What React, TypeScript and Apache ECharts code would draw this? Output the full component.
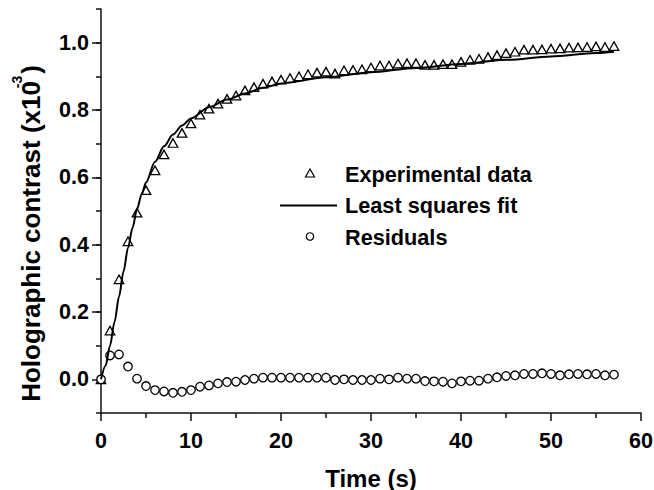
import React, { useEffect, useRef } from "react";
import * as echarts from "echarts";

const timeS = [
  0, 1, 2, 3, 4, 5, 6, 7, 8, 9, 10, 11, 12, 13, 14, 15, 16, 17, 18, 19, 20, 21, 22, 23, 24, 25, 26, 27, 28,
  29, 30, 31, 32, 33, 34, 35, 36, 37, 38, 39, 40, 41, 42, 43, 44, 45, 46, 47, 48, 49, 50, 51, 52, 53, 54, 55,
  56, 57,
];

const experimental = [
  0.0, 0.145, 0.297, 0.41, 0.495, 0.562, 0.621, 0.668, 0.702, 0.732, 0.76, 0.786, 0.804, 0.819, 0.833, 0.843,
  0.858, 0.868, 0.878, 0.885, 0.89, 0.895, 0.9, 0.906, 0.911, 0.914, 0.908, 0.918, 0.919, 0.921, 0.926, 0.932,
  0.932, 0.938, 0.939, 0.939, 0.934, 0.934, 0.936, 0.936, 0.943, 0.949, 0.952, 0.957, 0.963, 0.969, 0.973,
  0.979, 0.979, 0.98, 0.982, 0.983, 0.985, 0.986, 0.987, 0.989, 0.987, 0.99,
];

const residuals = [
  0.0, 0.071, 0.074, 0.038, 0.002, -0.02, -0.032, -0.036, -0.04, -0.037, -0.032, -0.022, -0.018, -0.012,
  -0.008, -0.007, -0.002, 0.002, 0.005, 0.005, 0.005, 0.005, 0.005, 0.005, 0.005, 0.005, -0.002, 0.0, -0.002,
  -0.002, -0.002, 0.002, 0.0, 0.005, 0.002, 0.002, -0.005, -0.006, -0.007, -0.012, -0.006, -0.004, -0.004,
  0.002, 0.006, 0.01, 0.012, 0.016, 0.016, 0.018, 0.016, 0.012, 0.015, 0.016, 0.015, 0.016, 0.012, 0.014,
];

const fitTime = [0, 0.5, 1, 1.5, 2, 2.5, 3, 3.5, 4, 4.5, 5, 6, 7, 8, 9, 10, 12, 14, 16, 18, 20, 25, 30, 35, 40, 45, 50, 55, 57];
const fitValues = [
  0.0, 0.04, 0.1, 0.17, 0.245, 0.32, 0.39, 0.45, 0.505, 0.548, 0.585, 0.646, 0.692, 0.727, 0.754, 0.775, 0.808,
  0.831, 0.849, 0.866, 0.879, 0.897, 0.912, 0.925, 0.937, 0.949, 0.959, 0.969, 0.973,
];

const yMajorTicks = [0, 0.2, 0.4, 0.6, 0.8, 1.0];

const legendLabels = ["Experimental data", "Least squares fit", "Residuals"];
const yTitle = "Holographic contrast (x10 )";
const yTitleSup = "-3";
const xTitle = "Time (s)";

const FONT = "'Liberation Sans', Arial, Helvetica, sans-serif";

export default function App() {
  const ref = useRef<HTMLDivElement>(null);

  useEffect(() => {
    if (!ref.current) return;
    const chart = echarts.init(ref.current, undefined, { renderer: "svg" });

    const zip = (xs: number[], ys: number[]) => xs.map((x, i) => [x, ys[i]]);
    const axisColor = "#111";

    chart.setOption({
      animation: false,
      backgroundColor: "#fff",
      grid: { left: 101, right: 13, top: 9, bottom: 77, containLabel: false, outerBoundsMode: "none" },
      xAxis: {
        type: "value",
        min: 0,
        max: 60,
        interval: 10,
        name: xTitle,
        nameLocation: "middle",
        nameGap: 53,
        nameTextStyle: { fontSize: 24, fontWeight: "bold", color: "#000", fontFamily: FONT },
        axisLine: { show: true, onZero: false, lineStyle: { color: axisColor, width: 1.5 } },
        axisTick: { show: true, length: 8, lineStyle: { color: axisColor, width: 1.5 } },
        minorTick: { show: true, splitNumber: 2, length: 5, lineStyle: { color: axisColor, width: 1.5 } },
        axisLabel: { fontSize: 21.5, fontWeight: "bold", color: "#000", fontFamily: FONT, margin: 17 },
        splitLine: { show: false },
      },
      yAxis: [
        {
          type: "value",
          position: "left",
          min: -0.1,
          max: 1.1,
          interval: 0.1,
          axisLine: { show: true, onZero: false, lineStyle: { color: axisColor, width: 1.5 } },
          axisTick: { show: true, length: 9, customValues: yMajorTicks, lineStyle: { color: axisColor, width: 1.5 } },
          axisLabel: {
            customValues: yMajorTicks,
            formatter: (v: number) => v.toFixed(1),
            fontSize: 21.5,
            fontWeight: "bold",
            color: "#000",
            fontFamily: FONT,
            margin: 12,
          },
          splitLine: { show: false },
        },
        {
          type: "value",
          position: "left",
          offset: 0,
          min: -0.1,
          max: 1.1,
          interval: 0.1,
          axisLine: { show: false },
          axisTick: { show: true, length: 5, lineStyle: { color: axisColor, width: 1.5 } },
          axisLabel: { show: false },
          splitLine: { show: false },
        },
      ],
      series: [
        {
          name: legendLabels[0],
          type: "scatter",
          data: zip(timeS, experimental),
          symbol: "triangle",
          symbolSize: [9.5, 8.5],
          itemStyle: { color: "#fff", borderColor: "#000", borderWidth: 1.3, opacity: 1 },
          z: 2,
        },
        {
          name: legendLabels[1],
          type: "line",
          data: zip(fitTime, fitValues),
          showSymbol: false,
          symbol: "none",
          smooth: 0.3,
          smoothMonotone: "x",
          lineStyle: { color: "#000", width: 2 },
          z: 3,
        },
        {
          name: legendLabels[2],
          type: "scatter",
          data: zip(timeS, residuals),
          symbol: "circle",
          symbolSize: 8.5,
          itemStyle: { color: "#fff", borderColor: "#000", borderWidth: 1.3, opacity: 1 },
          z: 2,
        },
      ],
      graphic: [
        {
          type: "polygon",
          shape: { points: [[305.5, 177], [314.5, 177], [310, 169]] },
          style: { fill: "#fff", stroke: "#000", lineWidth: 1.2 },
        },
        {
          type: "line",
          shape: { x1: 280, y1: 205.5, x2: 337, y2: 205.5 },
          style: { stroke: "#000", lineWidth: 2 },
        },
        {
          type: "circle",
          shape: { cx: 310, cy: 236.5, r: 3.7 },
          style: { fill: "#fff", stroke: "#000", lineWidth: 1.2 },
        },
        ...legendLabels.map((t, i) => ({
          type: "text",
          x: 345,
          y: [174, 205.5, 237][i],
          style: {
            text: t,
            fontSize: 21.7,
            fontWeight: "bold",
            fontFamily: FONT,
            fill: "#000",
            align: "left",
            verticalAlign: "middle",
          },
        })),
        {
          type: "text",
          x: 31,
          y: 233.5,
          rotation: Math.PI / 2,
          style: {
            text: yTitle,
            fontSize: 26,
            fontWeight: "bold",
            fontFamily: FONT,
            fill: "#000",
            align: "center",
            verticalAlign: "middle",
          },
        },
        {
          type: "text",
          x: 17,
          y: 82,
          rotation: Math.PI / 2,
          style: {
            text: yTitleSup,
            fontSize: 14,
            fontWeight: "bold",
            fontFamily: FONT,
            fill: "#000",
            align: "center",
            verticalAlign: "middle",
          },
        },
      ],
    });

    return () => chart.dispose();
  }, []);

  return <div ref={ref} style={{ width: 654, height: 490, position: "absolute", left: 0, top: 0 }} />;
}
